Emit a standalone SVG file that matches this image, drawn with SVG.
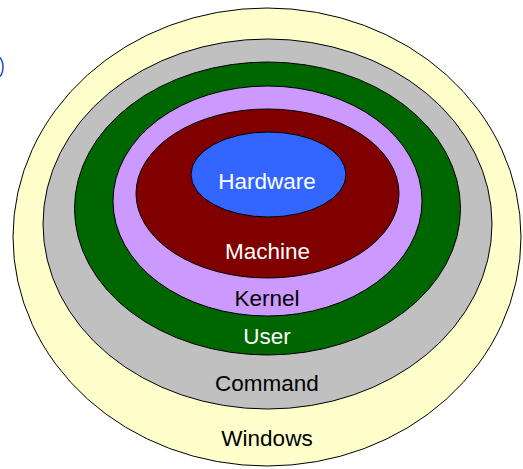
<svg xmlns="http://www.w3.org/2000/svg" width="523" height="469" viewBox="0 0 523 469">
<style>
.ring{stroke:#000;stroke-width:1}
.lbl{font-family:"Liberation Sans",Arial,sans-serif;font-size:22.5px;text-anchor:middle}
.w{fill:#fff}
.k{fill:#000}
</style>
<rect width="523" height="469" fill="#fff"/>
<ellipse cx="-2" cy="67" rx="5" ry="10" fill="none" stroke="#2a55c8" stroke-width="1.6"/>
<g id="windows">
<ellipse class="ring" cx="267" cy="237" rx="254" ry="229" fill="#FFFFCC"/>
<text class="lbl k" x="267" y="445.5">Windows</text>
</g>
<g id="command">
<ellipse class="ring" cx="267.5" cy="224" rx="224.5" ry="185" fill="#C0C0C0"/>
<text class="lbl k" x="267" y="391">Command</text>
</g>
<g id="user">
<ellipse class="ring" cx="267.5" cy="208.5" rx="193" ry="146.5" fill="#006600"/>
<text class="lbl w" x="267" y="344.3">User</text>
</g>
<g id="kernel">
<ellipse class="ring" cx="267.5" cy="201" rx="154.5" ry="115" fill="#CC99FF"/>
<text class="lbl k" x="267" y="306">Kernel</text>
</g>
<g id="machine">
<ellipse class="ring" cx="267.5" cy="193.5" rx="131.5" ry="84.5" fill="#800000"/>
<text class="lbl w" x="267.5" y="259.3">Machine</text>
</g>
<g id="hardware">
<ellipse class="ring" cx="268.5" cy="174.5" rx="77.5" ry="42.5" fill="#3366FF"/>
<text class="lbl w" x="267" y="189.3">Hardware</text>
</g>
</svg>
